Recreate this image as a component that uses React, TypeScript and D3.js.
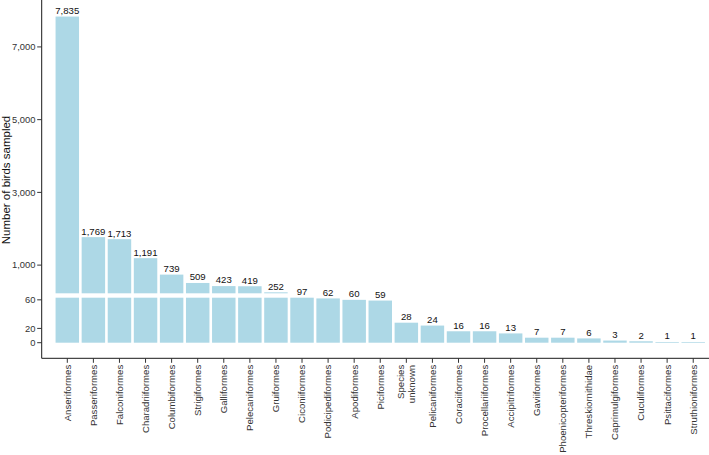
import React from "react";
import * as d3 from "d3";

const categories = [
  "Anseriformes", "Passeriformes", "Falconiformes", "Charadriiformes", "Columbiformes",
  "Strigiformes", "Galliformes", "Pelecaniformes", "Gruiformes", "Ciconiiformes",
  "Podicipediformes", "Apodiformes", "Piciformes", "Species\nunknown", "Pelicaniformes",
  "Coraciiformes", "Procellariiformes", "Accipitriformes", "Gaviiformes", "Phoenicopteriformes",
  "Threskiornithidae", "Caprimulgiformes", "Cuculiformes", "Psittaciformes", "Struthioniformes",
];
const values = [7835, 1769, 1713, 1191, 739, 509, 423, 419, 252, 97, 62, 60, 59, 28, 24, 16, 16, 13, 7, 7, 6, 3, 2, 1, 1];
const upperTicks = [1000, 3000, 5000, 7000];
const lowerTicks = [0, 20, 60];
const lowerDomain = [0, 63];
const upperDomain = [225, 8290];

const W = 709, H = 455;
const axisX = 41.7;
const axisY = 358.3;
const FONT = "'Liberation Sans', Arial, Helvetica, sans-serif";

export default function App() {
  const x = d3.scaleBand<string>()
    .domain(categories)
    .range([axisX + 25.6 - 13.04, axisX + 25.6 - 13.04 + 26.08 * categories.length])
    .paddingInner(0.1)
    .paddingOuter(0.05);
  const yLow = d3.scaleLinear().domain(lowerDomain).range([342.7, 297.7]);
  const yUp = d3.scaleLinear().domain(upperDomain).range([293.3, 0]);
  const fmt = d3.format(",");
  const fill = "#ADD8E6";
  const bw = x.bandwidth();

  return (
    <svg width={W} height={H} style={{ position: "absolute", left: 0, top: 0 }} fontFamily={FONT}>
      <rect x={0} y={0} width={W} height={H} fill="white" />
      {categories.map((c, i) => {
        const v = values[i];
        const x0 = x(c)!;
        const lowTop = yLow(Math.min(v, lowerDomain[1]));
        const inUpper = v > upperDomain[0];
        const upTop = inUpper ? yUp(v) : 0;
        const labelY = inUpper ? upTop - 2.6 : lowTop - 2.6;
        return (
          <g key={c}>
            <rect x={x0} y={lowTop} width={bw} height={yLow(0) - lowTop} fill={fill} />
            {inUpper && (
              <rect x={x0} y={upTop} width={bw} height={yUp(upperDomain[0]) - upTop} fill={fill} />
            )}
            <text x={x0 + bw / 2} y={labelY} textAnchor="middle" fontSize={9.6} fill="#111">
              {fmt(v)}
            </text>
          </g>
        );
      })}
      {/* axes */}
      <line x1={axisX} x2={axisX} y1={0} y2={axisY} stroke="#1a1a1a" strokeWidth={1} />
      <line x1={axisX} x2={W} y1={axisY} y2={axisY} stroke="#1a1a1a" strokeWidth={1} />
      {upperTicks.map((t) => (
        <g key={"u" + t} transform={`translate(${axisX},${yUp(t)})`}>
          <line x1={-4.5} x2={0} stroke="#333" />
          <text x={-6.2} dy="0.35em" textAnchor="end" fontSize={9.4} fill="#333">{fmt(t)}</text>
        </g>
      ))}
      {lowerTicks.map((t) => (
        <g key={"l" + t} transform={`translate(${axisX},${yLow(t)})`}>
          <line x1={-4.5} x2={0} stroke="#333" />
          <text x={-6.2} dy="0.35em" textAnchor="end" fontSize={9.4} fill="#333">{fmt(t)}</text>
        </g>
      ))}
      {categories.map((c) => {
        const cx = x(c)! + bw / 2;
        const lines = c.split("\n");
        return (
          <g key={"t" + c} transform={`translate(${cx},${axisY})`}>
            <line y1={0} y2={4.5} stroke="#333" />
            <g transform="translate(0,6.5) rotate(-90)">
              {lines.map((ln, j) => (
                <text key={j} x={0} y={(j - (lines.length - 1) / 2) * 10.5} dy="0.35em"
                  textAnchor="end" fontSize={9.6} fill="#333">{ln}</text>
              ))}
            </g>
          </g>
        );
      })}
      <text transform={`translate(5.5,180) rotate(-90)`} textAnchor="middle" dy="0.35em" fontSize={11.5} fill="#111">
        Number of birds sampled
      </text>
    </svg>
  );
}
